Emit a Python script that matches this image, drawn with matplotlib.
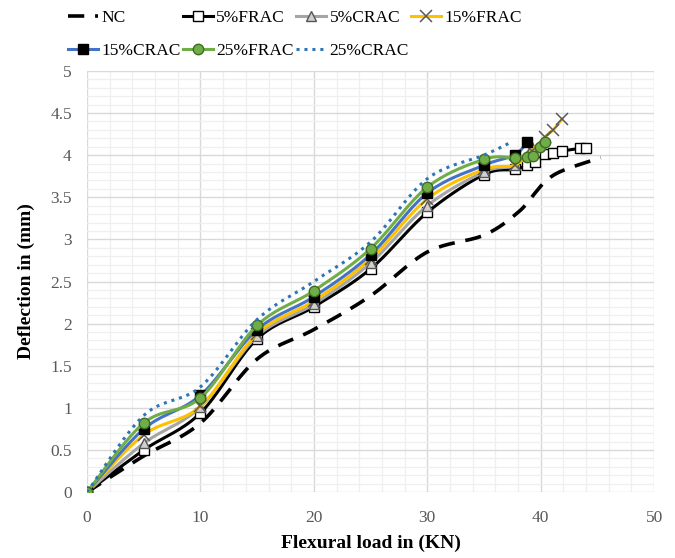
import numpy as np
import matplotlib.pyplot as plt
from matplotlib.ticker import MultipleLocator

plt.rcParams['font.family'] = ['Liberation Serif', 'DejaVu Serif']

# load (kN) / deflection (mm) for each mix
nc_x = [0, 5, 10, 15, 20, 25, 30, 35, 38, 39.5, 40.5, 42, 45.3]
nc_y = [0, 0.43, 0.82, 1.58, 1.93, 2.33, 2.85, 3.05, 3.32, 3.55, 3.70, 3.82, 3.97]

frac5_x = [0, 5, 10, 15, 20, 25, 30, 35, 37.7, 38.8, 39.5, 40.4, 41.1, 41.9, 43.5, 44]
frac5_y = [0, 0.50, 0.94, 1.82, 2.20, 2.65, 3.32, 3.77, 3.83, 3.88, 3.92, 4.01, 4.03, 4.05, 4.08, 4.09]

crac5_x = [0, 5, 10, 15, 20, 25, 30, 35, 37.7, 39.2]
crac5_y = [0, 0.58, 1.01, 1.85, 2.23, 2.72, 3.40, 3.80, 3.88, 4.10]

frac15_x = [0, 5, 10, 15, 20, 25, 30, 35, 37.7, 39.2, 40.4, 41.1, 41.9]
frac15_y = [0, 0.68, 1.02, 1.88, 2.27, 2.77, 3.48, 3.83, 3.88, 4.05, 4.22, 4.30, 4.43]

crac15_x = [0, 5, 10, 15, 20, 25, 30, 35, 37.7, 38.8]
crac15_y = [0, 0.75, 1.15, 1.93, 2.32, 2.82, 3.55, 3.88, 4.00, 4.16]

frac25_x = [0, 5, 10, 15, 20, 25, 30, 35, 37.7, 38.8, 39.3, 39.9, 40.4]
frac25_y = [0, 0.82, 1.12, 1.98, 2.39, 2.89, 3.62, 3.95, 3.97, 3.98, 3.99, 4.10, 4.16]

crac25_x = [0, 5, 10, 15, 20, 25, 30, 35, 37.5]
crac25_y = [0, 0.91, 1.25, 2.05, 2.50, 2.97, 3.72, 4.00, 4.16]


def smooth(x, y, n=20):
    # excel style smoothed line (catmull-rom through the points)
    p = np.column_stack([x, y]).astype(float)
    p = np.vstack([p[0], p, p[-1]])
    out = []
    for i in range(1, len(p) - 2):
        p0, p1, p2, p3 = p[i - 1], p[i], p[i + 1], p[i + 2]
        c1 = p1 + (p2 - p0) / 6
        c2 = p2 - (p3 - p1) / 6
        t = np.linspace(0, 1, n)[:, None]
        seg = ((1 - t) ** 3) * p1 + 3 * ((1 - t) ** 2) * t * c1 + 3 * (1 - t) * t ** 2 * c2 + t ** 3 * p2
        out.append(seg)
    out = np.vstack(out)
    return out[:, 0], out[:, 1]


fig, ax = plt.subplots(figsize=(6.75, 5.58), dpi=100)
fig.subplots_adjust(left=0.129, right=0.969, bottom=0.118, top=0.873)

series = [
    (nc_x, nc_y, 'NC', dict(color='black', lw=2.6, ls=(0, (4.5, 3))), None),
    (frac5_x, frac5_y, '5%FRAC', dict(color='black', lw=2.2),
     dict(marker='s', ms=7.5, mfc='white', mec='black', mew=1.0)),
    (crac5_x, crac5_y, '5%CRAC', dict(color='#a5a5a5', lw=2.2),
     dict(marker='^', ms=7.5, mfc='#d0d0d0', mec='#555555', mew=1.0)),
    (frac15_x, frac15_y, '15%FRAC', dict(color='#ffc000', lw=2.2),
     dict(marker='x', ms=8, mec='#595959', mew=1.1)),
    (crac15_x, crac15_y, '15%CRAC', dict(color='#4472c4', lw=2.2),
     dict(marker='s', ms=7.5, mfc='black', mec='black', mew=1.0)),
    (frac25_x, frac25_y, '25%FRAC', dict(color='#70ad47', lw=2.2),
     dict(marker='o', ms=7.5, mfc='#70ad47', mec='#3d6b22', mew=1.0)),
    (crac25_x, crac25_y, '25%CRAC', dict(color='#2e75b6', lw=2.2, ls=(0, (1, 1.6))), None),
]

handles = []
for i, (x, y, name, lstyle, mstyle) in enumerate(series):
    sx, sy = smooth(x, y)
    ax.plot(sx, sy, zorder=3 + i, solid_capstyle='round', **lstyle)
    if mstyle is not None:
        ax.plot(x, y, ls='none', zorder=3 + i, **mstyle)
        h, = ax.plot([], [], label=name, **lstyle, **mstyle)
    else:
        h, = ax.plot([], [], label=name, **lstyle)
    handles.append(h)

ax.set_xlim(0, 50)
ax.set_ylim(0, 5)
ax.xaxis.set_major_locator(MultipleLocator(10))
ax.xaxis.set_minor_locator(MultipleLocator(2))
ax.yaxis.set_major_locator(MultipleLocator(0.5))
ax.yaxis.set_minor_locator(MultipleLocator(0.1))
ax.grid(True, which='major', color='#d9d9d9', lw=1.0, zorder=0)
ax.grid(True, which='minor', color='#efefef', lw=0.9, zorder=0)
ax.set_axisbelow(True)
for s in ax.spines.values():
    s.set_visible(False)
ax.tick_params(which='both', length=0, labelsize=12.5, labelcolor='#595959')
ax.tick_params(axis='x', pad=13)
ax.tick_params(axis='y', pad=11)
ax.set_yticks(np.arange(0, 5.01, 0.5))
ax.set_yticklabels(['0', '0.5', '1', '1.5', '2', '2.5', '3', '3.5', '4', '4.5', '5'])

ax.set_xlabel('Flexural load in (KN)', fontsize=14, fontweight='bold', labelpad=6)
ax.set_ylabel('Deflection in (mm)', fontsize=14, fontweight='bold', labelpad=11)

# legend fills by column, so reorder to get the rows right
order = [0, 4, 1, 5, 2, 6, 3]
fig.legend(handles=[handles[k] for k in order], loc='upper left',
           bbox_to_anchor=(0.077, 1.01), ncol=4, frameon=False, fontsize=12.5,
           handlelength=1.75, columnspacing=0.1, handletextpad=0.2, labelspacing=0.95)

plt.savefig('out.png', dpi=100)
